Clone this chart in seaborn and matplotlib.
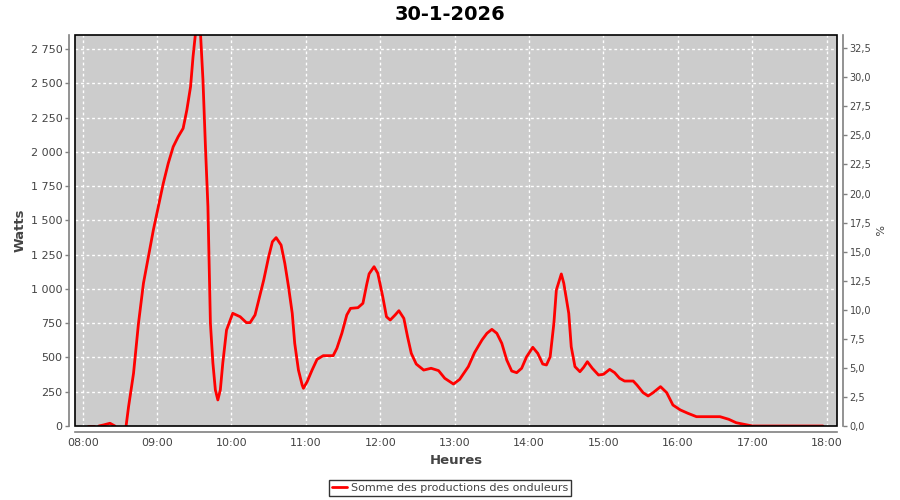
import matplotlib
matplotlib.use("Agg")
import numpy as np
import pandas as pd
import matplotlib.pyplot as plt
import seaborn as sns
from matplotlib.lines import Line2D
from matplotlib.patches import Rectangle
from matplotlib.ticker import FuncFormatter
import matplotlib.dates as mdates

# production relevee au fil de la journee (NaN = trou dans les mesures)
heures = [
    "08:04", "08:09", "08:11", "08:13", "08:17", "08:22", "08:26", "08:30",
    "08:35", "08:37", "08:41", "08:45", "08:49", "08:53", "08:57", "09:01",
    "09:05", "09:09", "09:13", "09:17", "09:21", "09:24", "09:27", "09:29",
    "09:31", "09:33", "09:35", "09:37", "09:39", "09:41", "09:42", "09:43",
    "09:45", "09:47", "09:49", "09:51", "09:53", "09:56", "09:59", "10:01",
    "10:07", "10:12", "10:15", "10:19", "10:22", "10:26", "10:30", "10:33",
    "10:36", "10:40", "10:43", "10:46", "10:49", "10:51", "10:54", "10:57",
    "10:58", "11:01", "11:05", "11:09", "11:14", "11:22", "11:25", "11:29",
    "11:33", "11:36", "11:42", "11:46", "11:49", "11:51", "11:55", "11:58",
    "12:02", "12:05", "12:08", "12:12", "12:15", "12:19", "12:22", "12:25",
    "12:29", "12:35", "12:41", "12:47", "12:52", "12:59", "13:04", "13:11",
    "13:16", "13:22", "13:26", "13:30", "13:34", "13:38", "13:42", "13:46",
    "13:50", "13:54", "13:58", "14:03", "14:07", "14:11", "14:14", "14:17",
    "14:20", "14:22", "14:26", "14:28", "14:32", "14:34", "14:37", "14:41",
    "14:44", "14:47", "14:51", "14:56", "15:00", "15:05", "15:09", "15:13",
    "15:17", "15:24", "15:27", "15:32", "15:36", "15:40", "15:46", "15:51",
    "15:56", "16:02", "16:08", "16:15", "16:34", "16:41", "16:47", "16:56",
    "16:59", "17:01", "17:57",
]
watts = [
    0, 0, np.nan, 0, 8, 20, 0, np.nan,
    0, 141, 384, 749, 1041, 1235, 1430, 1600,
    1770, 1916, 2037, 2110, 2171, 2305, 2475, 2694,
    2866, 2950, 2866, 2524, 2037, 1600, 1189, 751,
    460, 263, 190, 263, 460, 700, 773, 822,
    797, 754, 754, 810, 919, 1065, 1235, 1344,
    1374, 1320, 1187, 1016, 822, 603, 408, 299,
    275, 323, 408, 486, 513, 513, 567, 676,
    810, 858, 863, 895, 1030, 1110, 1162, 1114,
    943, 797, 773, 810, 841, 785, 651, 530,
    452, 408, 421, 404, 348, 306, 340, 433,
    535, 627, 676, 705, 676, 603, 481, 401,
    389, 421, 505, 574, 530, 452, 445, 505,
    749, 992, 1109, 1041, 822, 578, 433, 396,
    428, 469, 421, 372, 377, 413, 389, 348,
    328, 328, 299, 243, 219, 243, 287, 243,
    153, 117, 93, 68, 68, 49, 24, 7,
    2, 0, 0,
]
ticks_watts = list(range(0, 2751, 250))
ticks_pct = [i * 2.5 for i in range(14)]
serie = "Somme des productions des onduleurs"

df = pd.DataFrame({"heure": pd.to_datetime(["2026-01-30 " + h for h in heures]),
                   "watts": watts})
df["segment"] = df["watts"].isna().cumsum()
df = df.dropna()

sns.set_style("white")
plt.rcParams["font.family"] = ["DejaVu Sans"]

gris = "#808080"
txt = "#444444"

fig = plt.figure(figsize=(9, 5), dpi=100)
ax = fig.add_axes([75 / 900, 74 / 500, 762 / 900, 391 / 500])
ax.set_facecolor("#cccccc")

sns.lineplot(data=df, x="heure", y="watts", units="segment", estimator=None,
             color="red", lw=2, ax=ax, legend=False)

ax.set_xlim(pd.Timestamp("2026-01-30 07:53:48"), pd.Timestamp("2026-01-30 18:08:20"))
ax.set_ylim(0, 2852)
ax.xaxis.set_major_locator(mdates.HourLocator())
ax.xaxis.set_major_formatter(mdates.DateFormatter("%H:%M"))
ax.set_yticks(ticks_watts)
ax.yaxis.set_major_formatter(FuncFormatter(lambda v, p: f"{int(v):,}".replace(",", " ")))

ax.set_axisbelow(True)
ax.grid(True, color="white", linestyle=(0, (2, 2)), lw=1)

for s in ["top", "right"]:
    ax.spines[s].set_visible(False)
for s in ["left", "bottom"]:
    ax.spines[s].set_position(("outward", 4))
    ax.spines[s].set_color(gris)
    ax.spines[s].set_linewidth(1.2)
ax.add_patch(Rectangle((0, 0), 1, 1, transform=ax.transAxes, fill=False,
                       edgecolor="black", lw=1.2, clip_on=False, zorder=5))

ax.tick_params(direction="out", length=3, width=1, color=gris, labelcolor=txt,
               labelsize=8, pad=2)
ax.set_xlabel("Heures", fontsize=9.5, fontweight="bold", color=txt, labelpad=4)
ax.set_ylabel("Watts", fontsize=9.5, fontweight="bold", color=txt, labelpad=3)

ax2 = ax.twinx()
ax2.set_ylim(0, 33.64)
ax2.set_yticks(ticks_pct)
ax2.yaxis.set_major_formatter(FuncFormatter(lambda v, p: f"{v:.1f}".replace(".", ",")))
for s in ["top", "left", "bottom"]:
    ax2.spines[s].set_visible(False)
ax2.spines["right"].set_position(("outward", 4))
ax2.spines["right"].set_color(gris)
ax2.spines["right"].set_linewidth(1.2)
ax2.tick_params(direction="out", length=3, width=1, color=gris, labelcolor=txt,
                labelsize=7, pad=2)
ax2.set_ylabel("%", fontsize=8, color=txt, rotation=270, labelpad=8)

fig.suptitle("30-1-2026", x=0.5, y=0.972, fontsize=14, fontweight="bold",
             va="center", color="black")

poignee = [Line2D([], [], color="red", lw=2)]
leg = fig.legend(poignee, [serie], loc="center", bbox_to_anchor=(0.5, 1 - 488 / 500),
                 frameon=True, fancybox=False, edgecolor="black", fontsize=8,
                 handlelength=1.4, handletextpad=0.3, borderpad=0.3,
                 borderaxespad=0)
leg.get_frame().set_linewidth(1)
for t in leg.get_texts():
    t.set_color(txt)

fig.savefig("out.png", dpi=100)
